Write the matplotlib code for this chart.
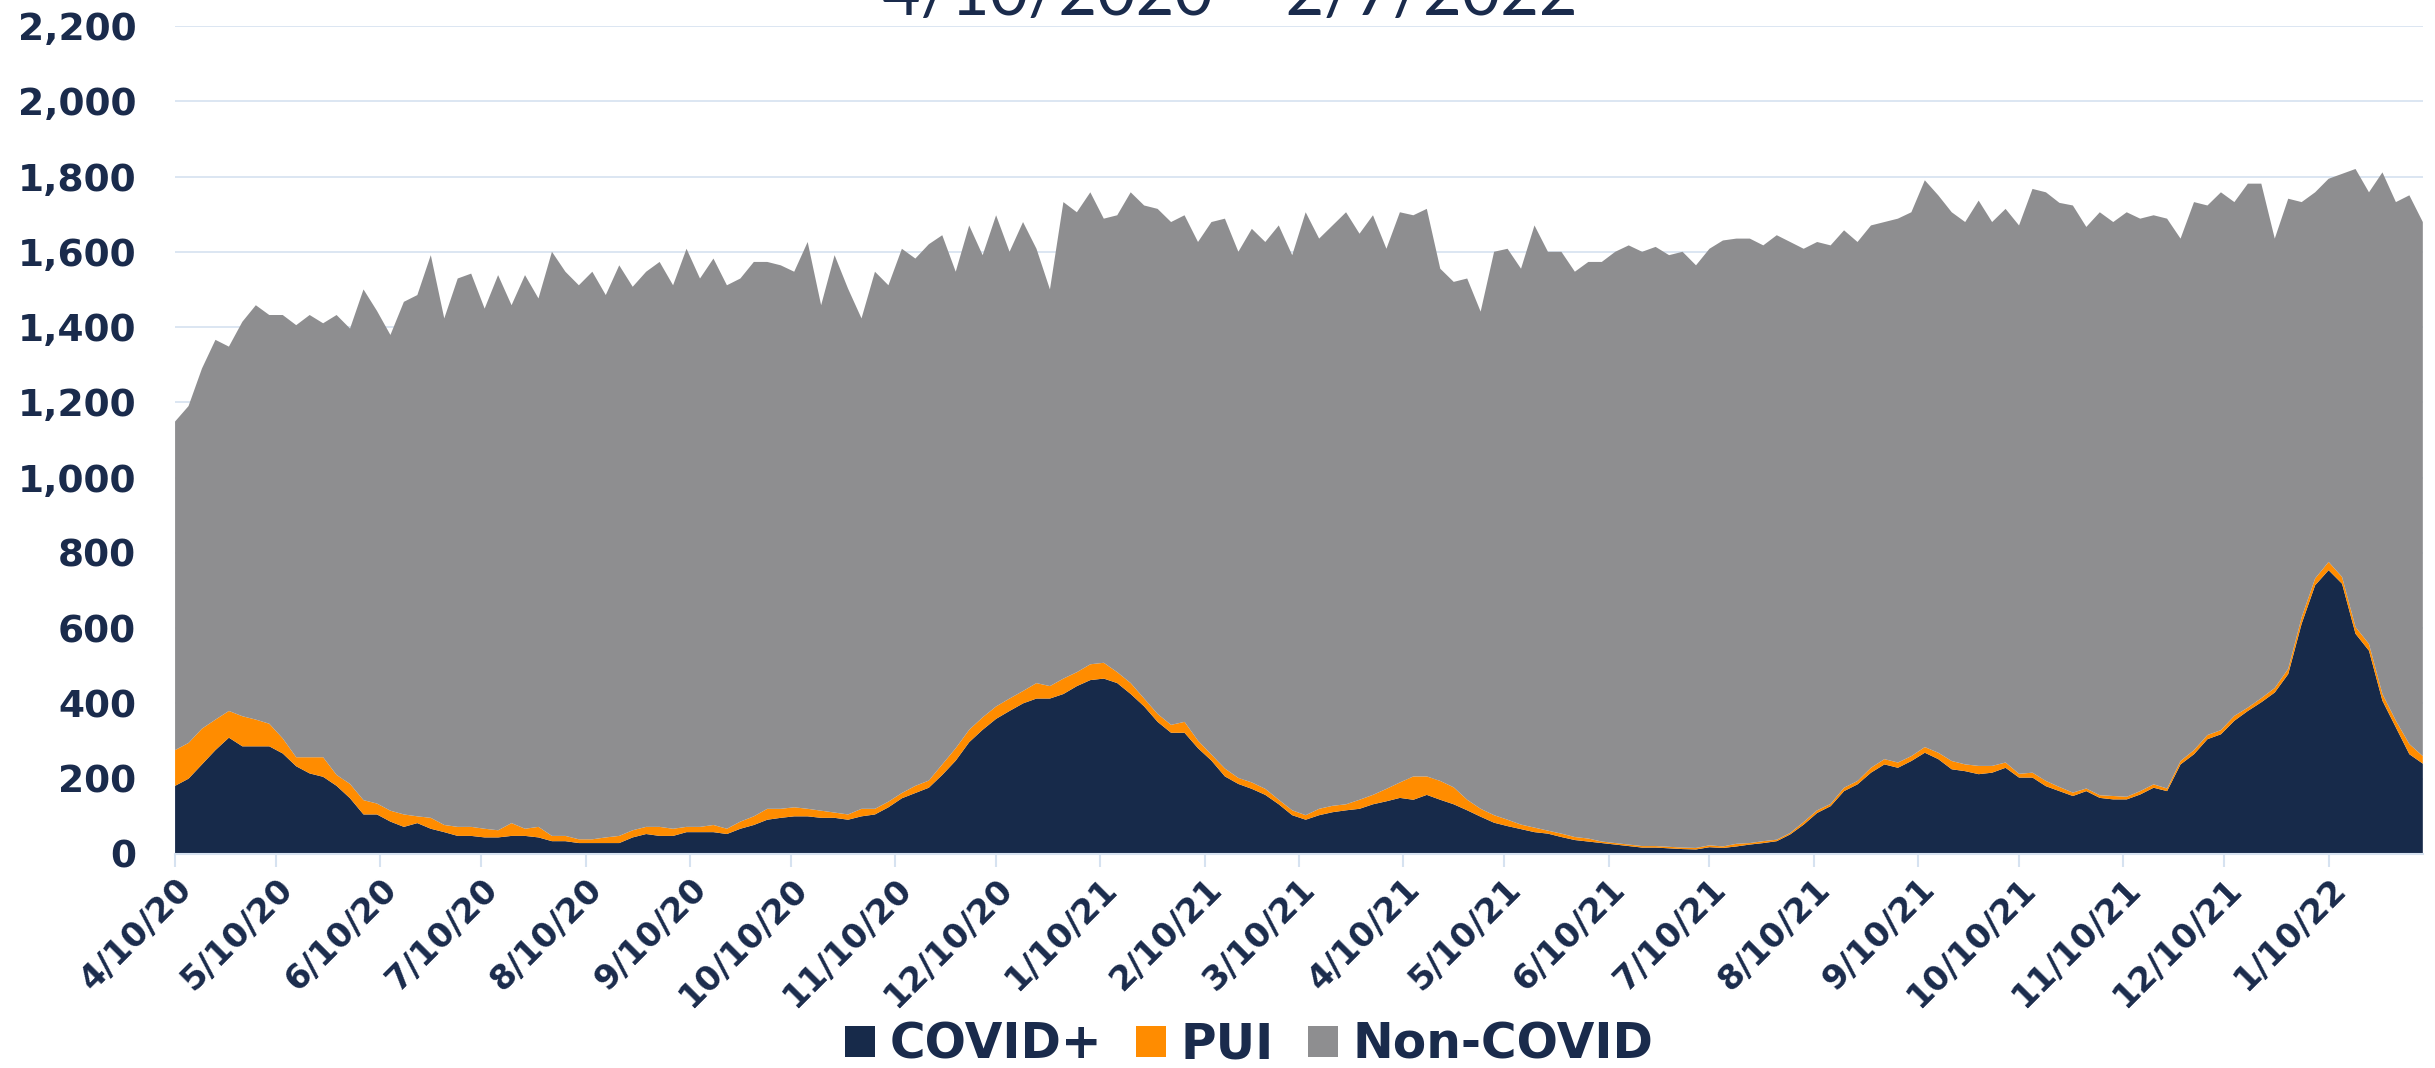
import numpy as np
import pandas as pd
import matplotlib
matplotlib.use("Agg")
import matplotlib.pyplot as plt
import matplotlib.dates as mdates
from matplotlib.ticker import FuncFormatter, MultipleLocator

# Patients, sampled every 4 days from 4/10/2020 to 2/7/2022
start_date = "2020-04-10"
step_days = 4

covid = [181, 200, 238, 276, 309, 286, 286, 286, 267, 233, 214, 205, 181, 148, 105, 105,
         86, 72, 82, 67, 58, 48, 48, 44, 44, 48, 48, 44, 34, 34, 29, 29,
         29, 29, 44, 53, 48, 48, 58, 58, 58, 53, 67, 77, 91, 96, 100, 100,
         96, 96, 91, 100, 105, 124, 148, 162, 176, 210, 248, 297, 330, 359, 380, 400,
         413, 413, 425, 446, 462, 466, 454, 425, 392, 351, 322, 322, 281, 248, 206, 186,
         173, 157, 132, 103, 91, 103, 111, 116, 120, 132, 140, 149, 144, 157, 144, 132,
         116, 99, 83, 74, 66, 58, 54, 45, 37, 33, 29, 25, 21, 17, 17, 15,
         13, 12, 18, 16, 20, 25, 29, 34, 52, 78, 109, 127, 167, 185, 216, 238,
         229, 247, 269, 252, 225, 220, 212, 216, 229, 203, 203, 180, 167, 154, 167, 149,
         145, 145, 158, 176, 167, 238, 265, 305, 318, 354, 380, 403, 429, 478, 612, 714,
         754, 718, 585, 540, 407, 336, 265, 240]

pui = [95, 95, 95, 81, 71, 80, 71, 60, 40, 24, 43, 52, 29, 38, 38, 29,
       29, 33, 18, 29, 19, 24, 24, 23, 19, 34, 19, 28, 14, 14, 10, 10,
       15, 19, 19, 19, 24, 19, 14, 14, 19, 14, 19, 23, 29, 24, 24, 20,
       19, 14, 14, 20, 15, 15, 14, 19, 19, 28, 33, 33, 33, 33, 33, 33,
       41, 33, 41, 37, 42, 42, 29, 29, 21, 21, 21, 29, 20, 16, 21, 16,
       17, 16, 12, 13, 12, 17, 17, 16, 24, 25, 33, 41, 62, 49, 50, 45,
       28, 21, 20, 17, 12, 12, 8, 9, 8, 8, 4, 4, 4, 4, 4, 4,
       4, 4, 5, 4, 7, 4, 5, 4, 4, 7, 7, 6, 9, 9, 13, 14,
       14, 13, 15, 17, 22, 18, 22, 18, 14, 10, 13, 14, 11, 9, 7, 7,
       9, 7, 9, 9, 7, 9, 11, 11, 11, 13, 9, 11, 12, 14, 17, 18,
       22, 18, 18, 18, 18, 18, 27, 20]

non_covid = [873, 895, 957, 1009, 968, 1048, 1101, 1086, 1125, 1148, 1175, 1153, 1222, 1210, 1357, 1309,
             1264, 1362, 1385, 1495, 1346, 1457, 1470, 1382, 1475, 1376, 1471, 1404, 1552, 1499, 1472, 1508,
             1441, 1516, 1444, 1475, 1501, 1444, 1536, 1457, 1505, 1444, 1443, 1473, 1453, 1444, 1423, 1506,
             1343, 1481, 1397, 1303, 1427, 1372, 1446, 1401, 1425, 1406, 1266, 1340, 1228, 1305, 1187, 1246,
             1154, 1054, 1266, 1222, 1254, 1180, 1214, 1304, 1310, 1342, 1336, 1346, 1325, 1415, 1461, 1398,
             1471, 1453, 1526, 1475, 1602, 1515, 1542, 1573, 1504, 1540, 1435, 1515, 1491, 1508, 1361, 1343,
             1385, 1321, 1497, 1517, 1477, 1600, 1538, 1546, 1502, 1532, 1540, 1571, 1592, 1579, 1592, 1572,
             1583, 1548, 1585, 1610, 1608, 1606, 1583, 1606, 1570, 1523, 1510, 1484, 1481, 1432, 1441, 1427,
             1445, 1445, 1506, 1481, 1458, 1441, 1502, 1445, 1471, 1457, 1551, 1564, 1552, 1560, 1492, 1549,
             1525, 1553, 1521, 1512, 1514, 1388, 1456, 1407, 1429, 1365, 1392, 1367, 1194, 1249, 1103, 1026,
             1018, 1071, 1217, 1200, 1386, 1378, 1458, 1419]

labels = ["COVID+", "PUI", "Non-COVID"]
colors = ["#172a4a", "#ff8c00", "#8e8e90"]
title = "4/10/2020 \u2013 2/7/2022"

TEXT = "#1a2b4c"
GRID = "#d6e2f0"

dates = pd.date_range(start_date, periods=len(covid), freq=f"{step_days}D")

fig = plt.figure(figsize=(24.35, 10.68), dpi=100)
ax = fig.add_axes([0.0719, 0.2004, 0.9231, 0.7753])

ax.stackplot(dates, covid, pui, non_covid, labels=labels, colors=colors, linewidth=0)

ax.set_xlim(dates[0], dates[-1])
ax.set_ylim(0, 2200)
ax.yaxis.set_major_locator(MultipleLocator(200))
ax.yaxis.set_major_formatter(FuncFormatter(lambda v, p: f"{int(v):,}"))
ax.grid(axis="y", color=GRID, linewidth=1.2, zorder=0)
ax.set_axisbelow(True)

ax.xaxis.set_major_locator(mdates.MonthLocator(bymonthday=10))
ax.xaxis.set_major_formatter(FuncFormatter(
    lambda v, p: (lambda d: f"{d.month}/{d.day}/{d.year % 100:02d}")(mdates.num2date(v))))

for s in ["top", "right", "left"]:
    ax.spines[s].set_visible(False)
ax.spines["bottom"].set_color(GRID)
ax.spines["bottom"].set_linewidth(1.5)

ax.tick_params(axis="y", length=0, pad=28, labelsize=27, labelcolor=TEXT)
ax.tick_params(axis="x", length=9, width=1.5, color=GRID, pad=4, labelsize=24.5, labelcolor=TEXT)
for t in ax.get_yticklabels() + ax.get_xticklabels():
    t.set_fontweight("bold")
for t in ax.get_xticklabels():
    t.set_rotation(45)
    t.set_ha("right")
    t.set_rotation_mode("anchor")

fig.text(0.505, 0.986, title, ha="center", va="baseline", fontsize=48,
         color=TEXT, family="Lato", fontweight="normal")

leg = fig.legend(loc="center", bbox_to_anchor=(0.513, 0.022), ncol=3, frameon=False,
                 handlelength=0.62, handleheight=0.62, handletextpad=0.3,
                 columnspacing=0.7, prop={"weight": "bold", "size": 35})
for t in leg.get_texts():
    t.set_color(TEXT)

fig.savefig("out.png", dpi=100)
